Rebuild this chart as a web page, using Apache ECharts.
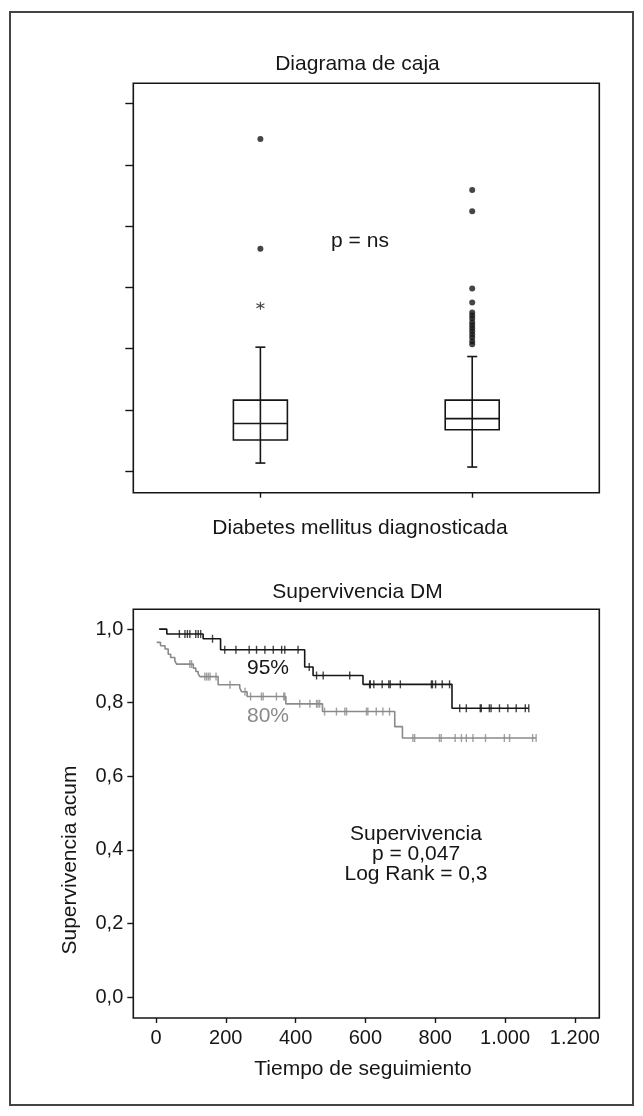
<!DOCTYPE html>
<html>
<head>
<meta charset="utf-8">
<script src="https://cdn.jsdelivr.net/npm/echarts@6/dist/echarts.min.js"></script>
<style>
  html, body { margin: 0; padding: 0; background: #ffffff; }
  #chart { width: 643px; height: 1116px; }
</style>
</head>
<body>
<div id="chart"></div>
<script>
// ---- Box plot: two groups of "Diabetes mellitus diagnosticada" ----
const boxPositions = [1, 2];
const boxLow = [0.130, 0.065];
const boxQ1 = [0.507, 0.673];
const boxMedian = [0.776, 0.856];
const boxQ3 = [1.158, 1.158];
const boxHigh = [2.022, 1.869];
const outliersGroup1 = [5.42, 3.63];
const extremesGroup1 = [2.70];
const outliersGroup2 = [4.59, 4.24, 2.98, 2.75, 2.59, 2.54, 2.49, 2.43, 2.38, 2.33, 2.28, 2.23, 2.18, 2.12, 2.07];
const boxTickValues = [0, 1, 2, 3, 4, 5, 6];

// ---- Kaplan-Meier survival (Supervivencia DM) ----
const kmTicksX = [0, 200, 400, 600, 800, 1000, 1200];
const kmTicksY = [0, 0.2, 0.4, 0.6, 0.8, 1.0];

// 95% group (black)
const blackTimes = [9, 31, 135, 185, 426, 450, 593, 848, 1068];
const blackSurv  = [1.000, 0.987, 0.974, 0.944, 0.897, 0.874, 0.850, 0.785, 0.785];
const blackCensored = [67, 83, 90, 97, 114, 121, 128, 162, 197, 229, 267, 288, 312, 336, 360, 369, 407,
  439, 460, 479, 555, 612, 614, 624, 648, 667, 671, 700, 789, 792, 801, 820, 841,
  870, 889, 929, 932, 955, 960, 984, 1008, 1032, 1058, 1068];

// 80% group (grey)
const greyTimes = [2, 13, 26, 35, 42, 54, 59, 107, 114, 121, 126, 178, 240, 245, 261, 372, 477, 684, 706, 1089];
const greySurv  = [0.964, 0.955, 0.946, 0.932, 0.923, 0.914, 0.905, 0.894, 0.885, 0.878, 0.871, 0.849, 0.840, 0.830,
  0.817, 0.797, 0.776, 0.735, 0.704, 0.704];
const greyCensored = [97, 102, 140, 145, 150, 155, 172, 212, 255, 271, 302, 307, 345, 366, 369, 412, 441, 460, 464, 469,
  483, 517, 541, 546, 603, 607, 631, 650, 669, 736, 741, 812, 817, 857, 875, 889, 908, 944, 998, 1013, 1079, 1089];

const FONT = "'Liberation Sans', Arial, Helvetica, sans-serif";
const INK = '#161616';
const GREY = '#8a8a8a';

// survival value of a step curve at time t (value holds until the next event time)
function survAt(times, surv, t) {
  let v = surv[0];
  for (let i = 0; i < times.length; i++) {
    if (times[i] <= t) v = surv[i];
  }
  return v;
}

const boxData = boxPositions.map((p, i) => [p, boxLow[i], boxQ1[i], boxMedian[i], boxQ3[i], boxHigh[i]]);
const stepData = (times, surv) => times.map((t, i) => [t, surv[i]]);
const censorData = (cens, times, surv) => cens.map(t => [t, survAt(times, surv, t)]);

const fmtComma = v => v.toFixed(1).replace('.', ',');
const fmtThousands = v => v >= 1000 ? String(v).replace(/\B(?=(\d{3})+(?!\d))/g, '.') : String(v);

const chart = echarts.init(document.getElementById('chart'), null, { renderer: 'canvas' });

const hiddenLine = { show: false, onZero: false };

const option = {
  backgroundColor: '#ffffff',
  animation: false,
  textStyle: { fontFamily: FONT },
  grid: [
    { left: 133.3, top: 83.3, width: 466, height: 409.4, show: true, borderColor: INK, borderWidth: 1.6, backgroundColor: 'transparent' },
    { left: 133.3, top: 609.3, width: 466, height: 408.7, show: true, borderColor: INK, borderWidth: 1.6, backgroundColor: 'transparent' }
  ],
  xAxis: [
    {
      gridIndex: 0, type: 'value', min: 0.4, max: 2.6,
      axisLine: hiddenLine, splitLine: { show: false },
      axisLabel: { show: false, customValues: boxPositions },
      axisTick: { show: true, inside: false, length: 5, customValues: boxPositions, lineStyle: { color: INK, width: 1.4 } }
    },
    {
      gridIndex: 1, type: 'value', min: -65, max: 1270,
      axisLine: hiddenLine, splitLine: { show: false },
      axisLabel: { show: true, customValues: kmTicksX, formatter: fmtThousands, fontSize: 20, color: INK, margin: 10, fontFamily: FONT },
      axisTick: { show: true, inside: false, length: 5, customValues: kmTicksX, lineStyle: { color: INK, width: 1.4 } }
    }
  ],
  yAxis: [
    {
      gridIndex: 0, type: 'value', min: -0.354, max: 6.33,
      axisLine: hiddenLine, splitLine: { show: false },
      axisLabel: { show: false, customValues: boxTickValues },
      axisTick: { show: true, inside: false, length: 8, customValues: boxTickValues, lineStyle: { color: INK, width: 1.4 } }
    },
    {
      gridIndex: 1, type: 'value', min: -0.057, max: 1.054,
      axisLine: hiddenLine, splitLine: { show: false },
      axisLabel: { show: true, customValues: kmTicksY, formatter: fmtComma, fontSize: 20, color: INK, margin: 10, fontFamily: FONT },
      axisTick: { show: true, inside: false, length: 6, customValues: kmTicksY, lineStyle: { color: INK, width: 1.4 } }
    }
  ],
  series: [
    {
      name: 'Diagrama de caja', type: 'custom', xAxisIndex: 0, yAxisIndex: 0,
      data: boxData,
      encode: { x: 0, y: [1, 2, 3, 4, 5] },
      renderItem: function (params, api) {
        const x = api.value(0);
        const pLow = api.coord([x, api.value(1)]);
        const pQ1 = api.coord([x, api.value(2)]);
        const pMed = api.coord([x, api.value(3)]);
        const pQ3 = api.coord([x, api.value(4)]);
        const pHigh = api.coord([x, api.value(5)]);
        const cx = pLow[0];
        const half = 27, cap = 5;
        const st = { stroke: INK, lineWidth: 1.6, fill: null };
        return {
          type: 'group',
          children: [
            { type: 'line', shape: { x1: cx, y1: pHigh[1], x2: cx, y2: pLow[1] }, style: st },
            { type: 'line', shape: { x1: cx - cap, y1: pHigh[1], x2: cx + cap, y2: pHigh[1] }, style: st },
            { type: 'line', shape: { x1: cx - cap, y1: pLow[1], x2: cx + cap, y2: pLow[1] }, style: st },
            { type: 'rect', shape: { x: cx - half, y: pQ3[1], width: half * 2, height: pQ1[1] - pQ3[1] }, style: { stroke: INK, lineWidth: 1.6, fill: 'rgba(0,0,0,0)' } },
            { type: 'line', shape: { x1: cx - half, y1: pMed[1], x2: cx + half, y2: pMed[1] }, style: st }
          ]
        };
      }
    },
    {
      name: 'Valores atípicos', type: 'scatter', xAxisIndex: 0, yAxisIndex: 0,
      symbol: 'circle', symbolSize: 6, itemStyle: { color: INK },
      data: outliersGroup1.map(v => [boxPositions[0], v]).concat(outliersGroup2.map(v => [boxPositions[1], v]))
    },
    {
      name: 'Valores extremos', type: 'scatter', xAxisIndex: 0, yAxisIndex: 0,
      symbol: 'path://M0,-1L0,1M-0.87,-0.5L0.87,0.5M-0.87,0.5L0.87,-0.5', symbolSize: 8,
      itemStyle: { color: 'rgba(0,0,0,0)', borderColor: INK, borderWidth: 1.1 },
      data: extremesGroup1.map(v => [boxPositions[0], v])
    },
    {
      name: '95%', type: 'line', xAxisIndex: 1, yAxisIndex: 1, step: 'end',
      showSymbol: false, symbol: 'none', lineStyle: { color: INK, width: 1.6 },
      data: stepData(blackTimes, blackSurv)
    },
    {
      name: '80%', type: 'line', xAxisIndex: 1, yAxisIndex: 1, step: 'end',
      showSymbol: false, symbol: 'none', lineStyle: { color: GREY, width: 1.6 },
      data: stepData(greyTimes, greySurv)
    },
    {
      name: '95% censurados', type: 'scatter', xAxisIndex: 1, yAxisIndex: 1,
      symbol: 'rect', symbolSize: [1.4, 8], itemStyle: { color: INK },
      data: censorData(blackCensored, blackTimes, blackSurv)
    },
    {
      name: '80% censurados', type: 'scatter', xAxisIndex: 1, yAxisIndex: 1,
      symbol: 'rect', symbolSize: [1.4, 8], itemStyle: { color: GREY },
      data: censorData(greyCensored, greyTimes, greySurv)
    }
  ],
  graphic: [
    { type: 'rect', shape: { x: 10, y: 12, width: 623, height: 1093 }, style: { fill: null, stroke: '#444', lineWidth: 2 }, silent: true },
    { type: 'text', x: 357.5, y: 64.5, style: { text: 'Diagrama de caja', font: '21px ' + FONT, fill: INK, textAlign: 'center', textVerticalAlign: 'middle' } },
    { type: 'text', x: 360, y: 241.5, style: { text: 'p = ns', font: '21px ' + FONT, fill: INK, textAlign: 'center', textVerticalAlign: 'middle' } },
    { type: 'text', x: 360, y: 528, style: { text: 'Diabetes mellitus diagnosticada', font: '21px ' + FONT, fill: INK, textAlign: 'center', textVerticalAlign: 'middle' } },
    { type: 'text', x: 357.5, y: 592, style: { text: 'Supervivencia DM', font: '21px ' + FONT, fill: INK, textAlign: 'center', textVerticalAlign: 'middle' } },
    { type: 'text', x: 268, y: 668, style: { text: '95%', font: '21px ' + FONT, fill: INK, textAlign: 'center', textVerticalAlign: 'middle' } },
    { type: 'text', x: 268, y: 716, style: { text: '80%', font: '21px ' + FONT, fill: GREY, textAlign: 'center', textVerticalAlign: 'middle' } },
    { type: 'text', x: 416, y: 854.5, style: { text: 'Supervivencia\np = 0,047\nLog Rank = 0,3', font: '21px ' + FONT, lineHeight: 20, fill: INK, textAlign: 'center', textVerticalAlign: 'middle' } },
    { type: 'text', x: 363, y: 1069, style: { text: 'Tiempo de seguimiento', font: '21px ' + FONT, fill: INK, textAlign: 'center', textVerticalAlign: 'middle' } },
    { type: 'text', x: 70, y: 860, rotation: Math.PI / 2, style: { text: 'Supervivencia acum', font: '21px ' + FONT, fill: INK, textAlign: 'center', textVerticalAlign: 'middle' } }
  ]
};

chart.setOption(option);
</script>
</body>
</html>
